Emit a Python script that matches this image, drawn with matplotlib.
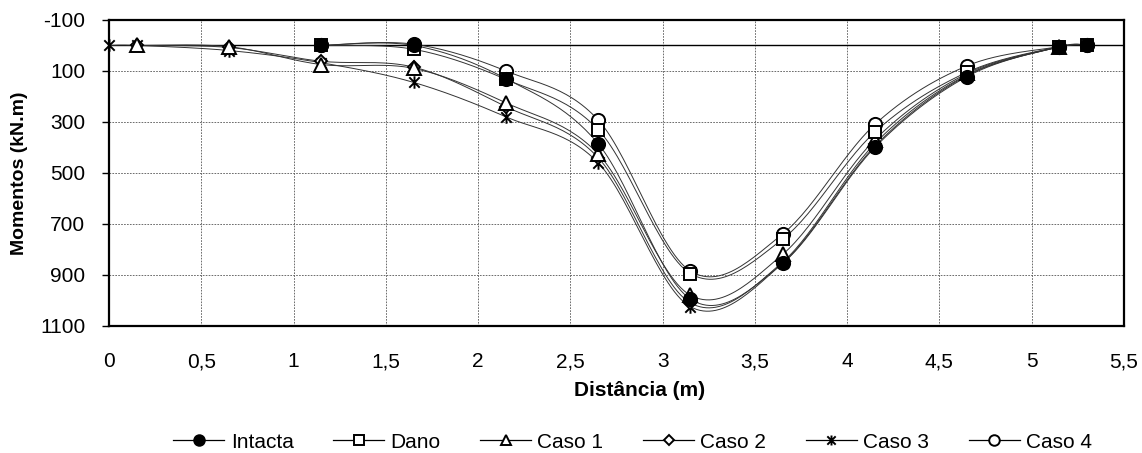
import numpy as np
import matplotlib
matplotlib.use("Agg")
import matplotlib.pyplot as plt
from matplotlib.lines import Line2D
from matplotlib.path import Path

plt.rcParams['font.family'] = ['Liberation Sans', 'DejaVu Sans']
plt.rcParams['axes.unicode_minus'] = False

# Distances along the beam (m)
x_main = [1.15, 1.65, 2.15, 2.65, 3.15, 3.65, 4.15, 4.65, 5.15, 5.3]
x_casos = [0.15, 0.65, 1.15, 1.65, 2.15, 2.65, 3.15, 3.65, 4.15, 4.65, 5.15]
x_caso3 = [0.0, 0.15, 0.65, 1.15, 1.65, 2.15, 2.65, 3.15, 3.65, 4.15, 4.65, 5.15]

# Bending moments (kN.m)
intacta = [0, 0, 130, 385, 995, 855, 400, 122, 5, 0]
dano = [0, 15, 133, 330, 895, 760, 340, 105, 5, 0]
caso4 = [0, -5, 100, 292, 885, 740, 310, 80, 5, 0]
caso1 = [0, 5, 75, 90, 225, 425, 980, 820, 370, 110, 5]
caso2 = [0, 8, 62, 85, 240, 440, 1010, 850, 385, 115, 5]
caso3 = [0, 0, 20, 68, 145, 280, 460, 1025, 855, 395, 118, 5]

x_ticks = [0, 0.5, 1, 1.5, 2, 2.5, 3, 3.5, 4, 4.5, 5, 5.5]
x_ticklabels = ["0", "0,5", "1", "1,5", "2", "2,5", "3", "3,5", "4", "4,5", "5", "5,5"]
y_ticks = [-100, 100, 300, 500, 700, 900, 1100]

# star marker: an X crossed by a vertical bar
star = Path([(-1, -1), (1, 1), (-1, 1), (1, -1), (0, -1.2), (0, 1.2)],
            [Path.MOVETO, Path.LINETO, Path.MOVETO, Path.LINETO,
             Path.MOVETO, Path.LINETO])

# name, x, y, marker, face, marker size, marker zorder
series = [
    ("Intacta", x_main, intacta, "o", "black", 9.5, 4.6),
    ("Dano", x_main, dano, "s", "white", 9.0, 4.5),
    ("Caso 1", x_casos, caso1, "^", "white", 9.5, 4.3),
    ("Caso 2", x_casos, caso2, "D", "white", 6.5, 4.2),
    ("Caso 3", x_caso3, caso3, star, "none", 9.0, 4.1),
    ("Caso 4", x_main, caso4, "o", "white", 9.5, 4.0),
]


def smooth(xs, ys, n=30):
    """Cardinal (Catmull-Rom style) Bezier smoothing through the points."""
    p = np.column_stack([xs, ys]).astype(float)
    out = [p[0]]
    for i in range(len(p) - 1):
        p0 = p[i - 1] if i > 0 else p[i]
        p1 = p[i]
        p2 = p[i + 1]
        p3 = p[i + 2] if i + 2 < len(p) else p[i + 1]
        c1 = p1 + (p2 - p0) / 6.0
        c2 = p2 - (p3 - p1) / 6.0
        t = np.linspace(0, 1, n)[1:, None]
        seg = ((1 - t) ** 3) * p1 + 3 * ((1 - t) ** 2) * t * c1 \
            + 3 * (1 - t) * t ** 2 * c2 + t ** 3 * p2
        out.extend(seg)
    out = np.array(out)
    return out[:, 0], out[:, 1]


fig = plt.figure(figsize=(11.42, 4.53), dpi=100)
ax = fig.add_axes([0.0955, 0.2808, 0.8887, 0.6752])

ax.set_xlim(0, 5.5)
ax.set_ylim(1100, -100)
ax.set_xticks(x_ticks)
ax.set_xticklabels(x_ticklabels)
ax.set_yticks(y_ticks)
ax.tick_params(axis='both', labelsize=15, direction='out', width=1)
ax.tick_params(axis='x', length=0, pad=19)
ax.tick_params(axis='y', length=5, pad=12)

ax.grid(True, linestyle=(0, (2, 1.5)), color='#555555', linewidth=0.6)
ax.axhline(0, color='black', linewidth=1.0, zorder=2)
for s in ax.spines.values():
    s.set_linewidth(1.6)

handles = []
for name, xs, ys, mk, fc, ms, mz in series:
    sx, sy = smooth(xs, ys)
    ax.plot(sx, sy, color='#333333', linewidth=0.7, zorder=3)
    ax.plot(xs, ys, linestyle='none', marker=mk, markersize=ms,
            markerfacecolor=fc, markeredgecolor='black',
            markeredgewidth=1.4, zorder=mz, clip_on=False)
    handles.append(Line2D([0], [0], color='black', linewidth=0.9, marker=mk,
                          markersize=ms * 0.8, markerfacecolor=fc,
                          markeredgecolor='black', markeredgewidth=1.4))

ax.set_xlabel("Distância (m)", fontsize=15, fontweight='bold')
ax.set_ylabel("Momentos (kN.m)", fontsize=14, fontweight='bold')
ax.xaxis.set_label_coords(0.523, -0.18)
ax.yaxis.set_label_coords(-0.08, 0.5)

fig.legend(handles, [s[0] for s in series], loc='center',
           bbox_to_anchor=(0.554, 0.024), ncol=6, frameon=False,
           fontsize=15, handlelength=2.45, columnspacing=1.9,
           handletextpad=0.3)

fig.savefig("out.png", dpi=100)
